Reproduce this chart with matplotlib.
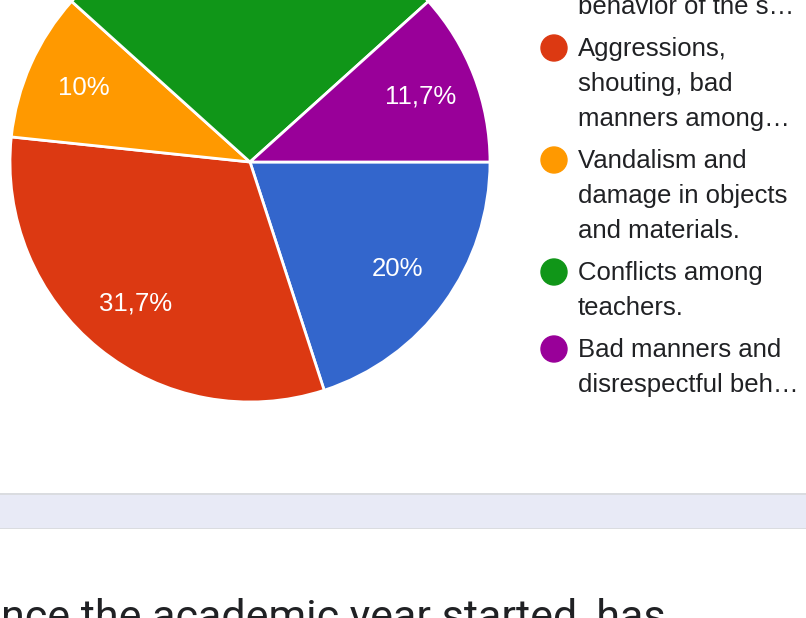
import matplotlib.pyplot as plt
from matplotlib.patches import Rectangle, Ellipse

# responses per category (60 answers in total)
categories = ["Disruptive behavior of the s…", "Aggressions, shouting, bad manners among…",
              "Vandalism and damage in objects and materials.", "Conflicts among teachers.",
              "Bad manners and disrespectful beh…"]
counts = [12, 19, 6, 16, 7]
colors = ["#3366cc", "#dc3912", "#ff9900", "#109618", "#990099"]

# legend lines as they wrap in the screenshot
legend_lines = [
    ["", "", "behavior of the s…"],
    ["Aggressions,", "shouting, bad", "manners among…"],
    ["Vandalism and", "damage in objects", "and materials."],
    ["Conflicts among", "teachers."],
    ["Bad manners and", "disrespectful beh…"],
]
question = "nce the academic year started, has"

W, H = 806, 618
fig = plt.figure(figsize=(W / 100, H / 100), dpi=100)
plt.rcParams['font.family'] = ['Liberation Sans', 'DejaVu Sans']

# pie axes: centre (250,162) px, radius 240 px
cx, cy, r = 250, 162, 240
ax = fig.add_axes([(cx - r) / W, (H - cy - r) / H, 2 * r / W, 2 * r / H])


def fmt(p):
    s = f"{p:.1f}".rstrip("0").rstrip(".")
    return s.replace(".", ",") + "%"


wedges, texts, autotexts = ax.pie(counts, colors=colors, startangle=0, counterclock=False,
                                  autopct=fmt, pctdistance=0.76, radius=1,
                                  wedgeprops=dict(edgecolor="white", linewidth=2))
for w in wedges:
    w.set_clip_on(False)
for t in autotexts:
    t.set_color("white")
    t.set_fontsize(18.5)
ax.set_xlim(-1, 1)
ax.set_ylim(-1, 1)
ax.axis("off")

# legend
lx, lh = 578, 35
y = 7 - 2 * lh
for col, lines in zip(colors, legend_lines):
    fig.patches.append(Ellipse((554 / W, 1 - (y - 1) / H), 26 / W, 26 / H,
                               transform=fig.transFigure, color=col, clip_on=False))
    for ln in lines:
        fig.text(lx / W, 1 - y / H, ln, fontsize=18.5, color="#202124", va="center", ha="left")
        y += lh
    y += 7

# grey band
fig.patches.append(Rectangle((0, 1 - 529 / H), 1, 36 / H, transform=fig.transFigure,
                             facecolor="#e8eaf6", edgecolor="none"))
fig.patches.append(Rectangle((0, 1 - 495 / H), 1, 2 / H, transform=fig.transFigure,
                             facecolor="#dadce0", edgecolor="none"))
fig.patches.append(Rectangle((0, 1 - 529 / H), 1, 1.5 / H, transform=fig.transFigure,
                             facecolor="#dadce0", edgecolor="none"))

fig.text(1 / W, 1 - 630 / H, question, fontsize=31, color="#202124", ha="left", va="baseline",
         family=["Roboto", "DejaVu Sans"])

plt.savefig("out.png", dpi=100)
